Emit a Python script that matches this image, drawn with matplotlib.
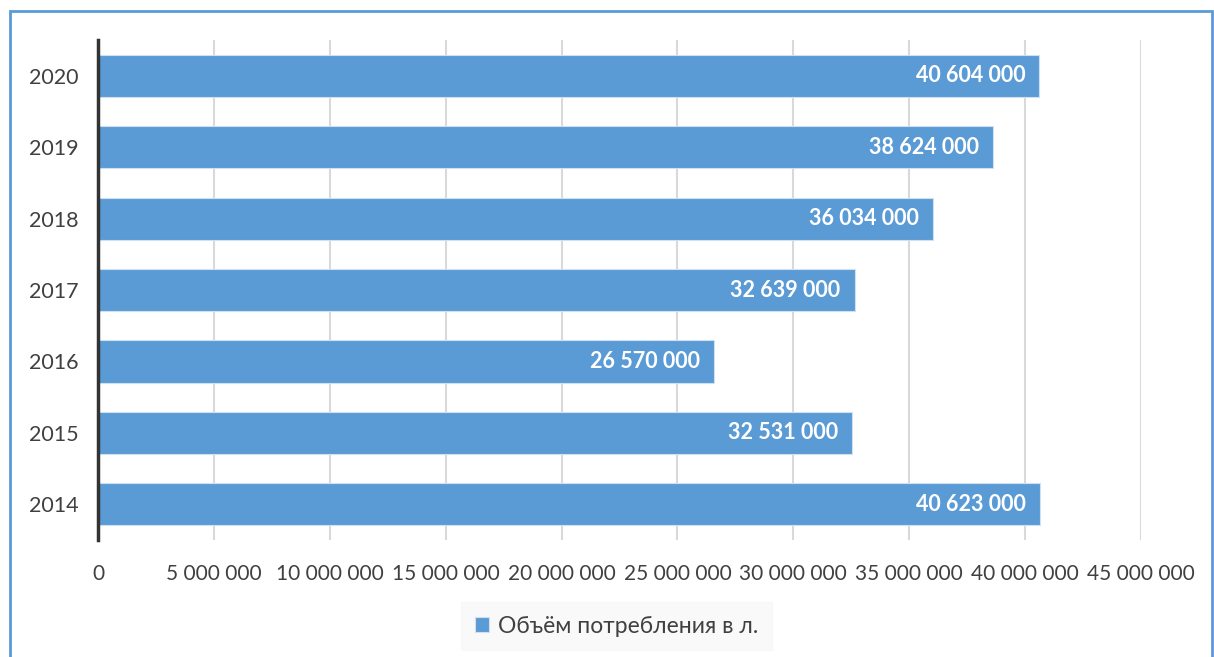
import matplotlib.pyplot as plt
from matplotlib.patches import Rectangle
from matplotlib.ticker import FuncFormatter

years = ["2014", "2015", "2016", "2017", "2018", "2019", "2020"]
volumes = [40623000, 32531000, 26570000, 32639000, 36034000, 38624000, 40604000]
series_name = "Объём потребления в л."

plt.rcParams["font.family"] = ["Lato", "DejaVu Sans"]

fig = plt.figure(figsize=(12.14, 6.57), dpi=100)
ax = fig.add_axes([0.0807, 0.178, 0.8592, 0.761])

bars = ax.barh(years, volumes, height=0.59, color="#5B9BD5",
               edgecolor="#cfe0f1", linewidth=0.8, label=series_name, zorder=3)

def spaced(v, pos=None):
    return f"{int(v):,}".replace(",", " ")

for rect, v in zip(bars, volumes):
    ax.text(v - 0.6e6, rect.get_y() + rect.get_height() / 2, spaced(v),
            ha="right", va="center", color="white", fontsize=15.5,
            fontweight="bold", zorder=4)

ax.set_xlim(0, 45e6)
ax.set_ylim(-0.5, 6.5)
ax.set_xticks(range(0, 45000001, 5000000))
ax.xaxis.set_major_formatter(FuncFormatter(spaced))
ax.grid(axis="x", color="#d9d9d9", linewidth=1.5, zorder=0)
ax.tick_params(axis="both", length=0, labelcolor="#404040")
ax.tick_params(axis="x", pad=17, labelsize=15)
ax.tick_params(axis="y", pad=14, labelsize=15.5)

for s in ["top", "right", "bottom"]:
    ax.spines[s].set_visible(False)
ax.spines["left"].set_color("#333333")
ax.spines["left"].set_linewidth(2.5)
ax.spines["left"].set_zorder(5)

leg = fig.legend(loc="center", bbox_to_anchor=(0.508, 0.047), frameon=True,
                 fontsize=16.5, handlelength=0.6, handleheight=0.6, handletextpad=0.4,
                 borderpad=0.6, borderaxespad=0, fancybox=False)
leg.get_frame().set_facecolor("#f8f8f8")
leg.get_frame().set_edgecolor("#f8f8f8")
for t in leg.get_texts():
    t.set_color("#404040")

# outer chart border
fig.add_artist(Rectangle((10 / 1214, -0.05), 1202 / 1214, 1 - 11 / 657 + 0.05,
                         transform=fig.transFigure, fill=False,
                         edgecolor="#5B9BD5", linewidth=2))

fig.savefig("out.png", dpi=100)
